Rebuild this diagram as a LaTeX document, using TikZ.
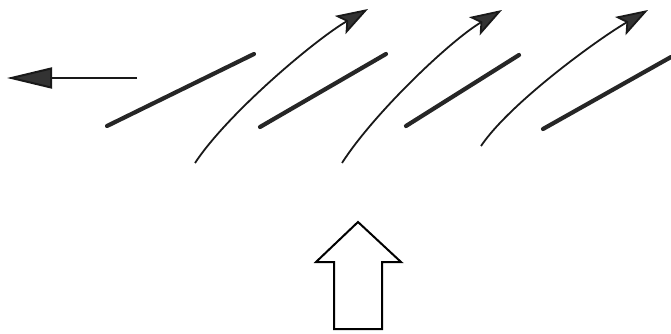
\documentclass[tikz,border=0pt]{standalone}
\usetikzlibrary{arrows.meta}
\begin{document}
\begin{tikzpicture}[x=1pt,y=-1pt,
  blade/.style={line width=4.2pt,line cap=round,black!85},
  flow/.style={line width=1.8pt,black!90,-{Stealth[length=32pt,width=21pt,inset=7pt,fill=black!80]}},
  outflow/.style={line width=2pt,black!90,-{Triangle[length=45pt,width=21pt,fill=black!80]}},
  bigarrow/.style={line width=2pt,black,line join=miter}]
\useasboundingbox (0,0) rectangle (671,334);
% left outgoing arrow
\coordinate (lo1) at (137,78);
\coordinate (lo2) at (7,78);
\draw[outflow] (lo1) -- (lo2);
% blades
\coordinate (b1a) at (107,126); \coordinate (b1b) at (254,54);
\coordinate (b2a) at (260,127); \coordinate (b2b) at (386,54);
\coordinate (b3a) at (406,126); \coordinate (b3b) at (519,55);
\coordinate (b4a) at (543,129); \coordinate (b4b) at (671,57);
\draw[blade] (b1a) -- (b1b);
\draw[blade] (b2a) -- (b2b);
\draw[blade] (b3a) -- (b3b);
\draw[blade] (b4a) -- (b4b);
% flow curves
\coordinate (c1s) at (195,163); \coordinate (c1e) at (368,9);
\coordinate (c2s) at (342,163); \coordinate (c2e) at (502,10);
\coordinate (c3s) at (481,146); \coordinate (c3e) at (648,10);
\draw[flow] (c1s) .. controls (228,113) and (316,39) .. (c1e);
\draw[flow] (c2s) .. controls (374,113) and (451,40) .. (c2e);
\draw[flow] (c3s) .. controls (510,103) and (598,39) .. (c3e);
% hollow up arrow
\draw[bigarrow] (334,329) -- (334,262) -- (316,262) -- (358,222) -- (401,262) -- (382,262) -- (382,329) -- cycle;
\end{tikzpicture}
\end{document}
